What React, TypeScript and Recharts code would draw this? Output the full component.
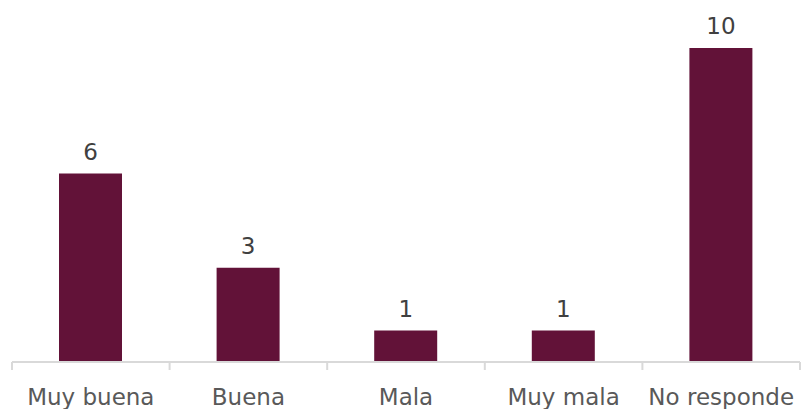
import { BarChart, Bar, XAxis, YAxis, LabelList } from "recharts";

const categories = ["Muy buena", "Buena", "Mala", "Muy mala", "No responde"];
const counts = [6, 3, 1, 1, 10];

const data = categories.map((name, i) => ({ name, value: counts[i] }));

const WIDTH = 802;
const HEIGHT = 409;
const LEFT = 12;
const RIGHT = 2;
const BAND = (WIDTH - LEFT - RIGHT) / categories.length;

// tick y from recharts sits below the axis by tickSize + tickMargin (6 + 2)
function CategoryTick(props: any) {
  const { x, y, payload, index } = props;
  const axisY = y - 8;
  const left = x - BAND / 2;
  const right = x + BAND / 2;
  const isLast = index === categories.length - 1;
  return (
    <g>
      <line x1={left} y1={axisY} x2={left} y2={axisY + 8} stroke="#d9d9d9" strokeWidth={2} />
      {isLast && (
        <line x1={right} y1={axisY} x2={right} y2={axisY + 8} stroke="#d9d9d9" strokeWidth={2} />
      )}
      <text
        x={x}
        y={axisY + 43}
        textAnchor="middle"
        fill="#595959"
        fontSize={23}
        fontFamily="'DejaVu Sans', sans-serif"
      >
        {payload.value}
      </text>
    </g>
  );
}

export default function App() {
  return (
    <div style={{ position: "absolute", top: 0, left: 0, background: "#fff" }}>
      <BarChart
        width={WIDTH}
        height={HEIGHT}
        data={data}
        margin={{ top: 48, right: RIGHT, left: LEFT, bottom: 0 }}
      >
        <XAxis
          dataKey="name"
          axisLine={{ stroke: "#d9d9d9", strokeWidth: 2 }}
          tickLine={false}
          tick={<CategoryTick />}
          height={47}
          interval={0}
        />
        <YAxis hide domain={[0, 10]} />
        <Bar dataKey="value" fill="#621238" barSize={63} isAnimationActive={false}>
          <LabelList
            dataKey="value"
            position="top"
            offset={14}
            fill="#404040"
            fontSize={23}
            fontFamily="'DejaVu Sans', sans-serif"
          />
        </Bar>
      </BarChart>
    </div>
  );
}
